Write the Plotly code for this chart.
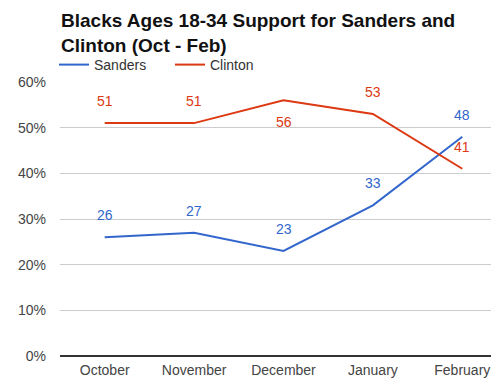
import plotly.graph_objects as go

months = ["October", "November", "December", "January", "February"]
sanders = [26, 27, 23, 33, 48]
clinton = [51, 51, 56, 53, 41]
clinton_label_pos = [1, 1, -1, 1, 1]   # +1 above, -1 below
sanders_label_pos = [1, 1, 1, 1, 1]
y_ticks = [0, 10, 20, 30, 40, 50, 60]

BLUE = "#3366cc"
RED = "#dc3912"
FONT = "Liberation Sans, Arial, sans-serif"

# page body has an 8px margin, so the figure is offset by 8px
L, T = 52, 74
PLOT_H = 356 - 8 - T

fig = go.Figure()
fig.add_trace(go.Scatter(x=months, y=sanders, mode="lines", name="Sanders",
                         line=dict(color=BLUE, width=2)))
fig.add_trace(go.Scatter(x=months, y=clinton, mode="lines", name="Clinton",
                         line=dict(color=RED, width=2)))

annotations = []
for series, pos, color in [(sanders, sanders_label_pos, BLUE), (clinton, clinton_label_pos, RED)]:
    for m, v, p in zip(months, series, pos):
        annotations.append(dict(x=m, y=v, text=str(v), showarrow=False,
                                yshift=22 * p, font=dict(color=color, size=14, family=FONT)))

annotations.append(dict(
    text="<b>Blacks Ages 18-34 Support for Sanders and<br>Clinton (Oct - Feb)</b>",
    xref="paper", yref="paper", x=0, y=1 + 73 / PLOT_H, xanchor="left", yanchor="top",
    align="left", showarrow=False, borderpad=0,
    font=dict(family=FONT, size=19, color="#111")))

fig.update_layout(
    width=499, height=388,
    margin=dict(l=L, r=0, t=T, b=388 - T - PLOT_H),
    paper_bgcolor="white", plot_bgcolor="white",
    font=dict(family=FONT, size=14, color="#444"),
    showlegend=True,
    legend=dict(orientation="h", x=-6 / 447, xanchor="left", y=1 + 1 / PLOT_H, yanchor="bottom",
                font=dict(size=14, color="#333", family=FONT),
                bgcolor="rgba(0,0,0,0)", entrywidth=71, entrywidthmode="pixels"),
    xaxis=dict(type="category", range=[-0.5, 4.5], showgrid=False, showline=False,
               ticks="", tickfont=dict(size=14, color="#444"), automargin=False,
               ticklabelstandoff=4),
    yaxis=dict(range=[0, 60], tickvals=y_ticks, ticktext=[f"{t}%" for t in y_ticks],
               showgrid=True, gridcolor="#cccccc", gridwidth=1, zeroline=True,
               zerolinecolor="#333333", zerolinewidth=1.5, showline=False, ticks="",
               tickfont=dict(size=14, color="#444"), ticklabelstandoff=13, automargin=False),
    annotations=annotations,
)

fig.write_html("out.html")
